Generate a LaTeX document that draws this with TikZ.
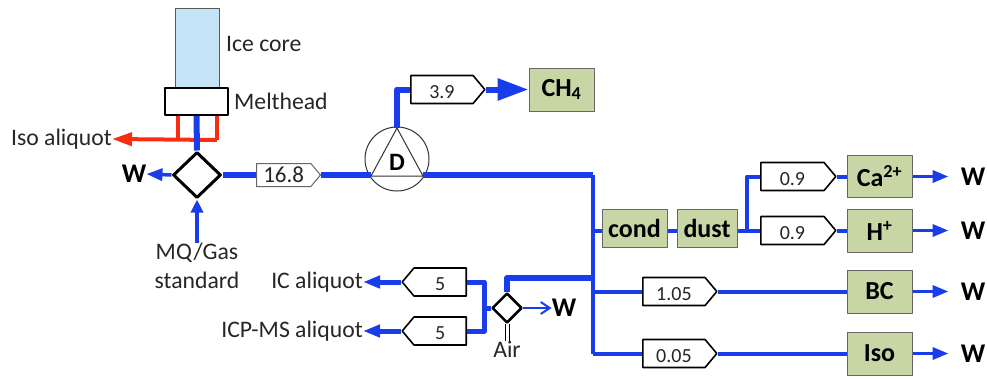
\documentclass[tikz,border=0pt]{standalone}
\usepackage{fontspec}
\setmainfont{Carlito}
\usetikzlibrary{arrows.meta,positioning,calc,shapes.geometric,shapes.symbols}
\definecolor{flow}{HTML}{1A3DEB}
\definecolor{melt}{HTML}{FA2D10}
\definecolor{sensor}{HTML}{C8D6A6}
\definecolor{ice}{HTML}{C5E3F7}
\tikzset{
  lbl/.style={inner sep=0pt,font=\fontsize{23.7}{28}\selectfont,text=black!85},
  wout/.style={inner sep=0pt,font=\fontsize{27}{28}\selectfont\bfseries},
  sensorbox/.style={draw=black!60,line width=1pt,fill=sensor,inner sep=0pt,
             font=\fontsize{26}{28}\selectfont\bfseries},
  tagR/.style={signal,signal to=east,signal from=nowhere,signal pointer angle=100,draw=black,
             line width=1.6pt,fill=white,inner sep=0pt,minimum height=28pt,anchor=west,
             text height=17pt,text depth=0pt,
             font=\fontsize{20}{22}\selectfont,text=black!85},
  tagL/.style={tagR,signal to=west,anchor=east},
  valve/.style={diamond,draw=black,line width=3pt,fill=white,inner sep=0pt,aspect=1},
  thickflow/.style={flow,line width=6pt},
  midflow/.style={flow,line width=4pt},
  wflow/.style={flow,line width=3.5pt,-{Triangle[length=16pt,width=12pt]}},
  every picture/.style={line join=round}}
\begin{document}
\begin{tikzpicture}[x=1pt,y=-1pt]
  \useasboundingbox (0,0) rectangle (987,378);
  % left part
  \node[draw=black!65,line width=1pt,fill=ice,minimum width=44pt,minimum height=80pt,inner sep=0pt] (core) at (197,48){};
  \node[draw=black,line width=2pt,fill=white,minimum width=63pt,minimum height=27pt,inner sep=0pt] (head) at (196.5,101.5){};
  \node[lbl,anchor=west] (coretxt) at (226,44){Ice core};
  \node[lbl,anchor=west] (headtxt) at (234,101){Melthead};
  \node[lbl,anchor=east] (isotxt) at (112,139){Iso aliquot};
  \node[valve,minimum width=48pt,minimum height=46pt] (v1) at (197,175){};
  \node[wout] (w0) at (134,174){W};
  \node[lbl,align=center,font=\fontsize{23.7}{29}\selectfont] (mq) at (197,266){MQ/Gas\\standard};
  \coordinate (redL) at (178,140);\coordinate (redR) at (217,140);
  \draw[melt,line width=4pt] (redL |- head.south)--(redL) (redR |- head.south)--(redR);
  \draw[melt,line width=4pt,-{Triangle[length=20pt,width=13pt]}] (redR)--(isotxt.east);
  \draw[thickflow] (head.south)--(v1.north);
  \draw[wflow] (v1.west)--(w0.east);
  \draw[flow,line width=4pt,-{Triangle[length=13pt,width=12pt]}] (mq.north)--(v1.south);
  % degasser
  \node[tagR,draw=black!60,line width=1pt,minimum width=64pt,minimum height=23pt,text height=15pt,font=\fontsize{23}{24}\selectfont] (t168) at (256,175){16.8};
  \node[draw=black!80,line width=1pt,circle,minimum size=64pt,inner sep=0pt] (pump) at (397,159){};
  \coordinate (apex) at (397,128);\coordinate (baseL) at (371,176);\coordinate (baseR) at (423,176);
  \coordinate (busT) at (593,175);\coordinate (busB) at (593,353.5);
  \node[tagR,minimum width=74pt] (t39) at (410,89.5){3.9\hspace{8pt}};
  \node[sensorbox,minimum width=65pt,minimum height=43pt] (ch4) at (561.5,89.5){CH\textsubscript{4}};
  \draw[thickflow] (v1.east)--(t168.west) (t168.east)--(t168.east -| baseL) (baseR |- t168.east)--(busT);
  \draw[midflow] (busT)--(busB);
  \draw[thickflow] (apex)|-(t39.west);
  \draw[thickflow,-{Triangle[length=31pt,width=21pt]}] (t39.east)--(ch4.west);
  \draw[draw=black!80,line width=1pt,fill=white] (apex)--(baseL)--(baseR)--cycle;
  \node[inner sep=0pt,font=\fontsize{25}{28}\selectfont\bfseries] (dlbl) at (397,162){D};
  % right part
  \node[sensorbox,minimum width=65pt,minimum height=38pt] (cond) at (634.5,228){cond};
  \node[sensorbox,minimum width=60pt,minimum height=38pt] (dust) at (707,228){dust};
  \coordinate (jn) at (747,230.5);
  \foreach \nm/\val/\lab/\ya/\hh in {ca/0.9/Ca\textsuperscript{2+}/176.5/42,h/0.9/H\textsuperscript{+}/230.5/43}{
    \node[tagR,minimum width=75pt] (t\nm) at (760,\ya){\val\hspace{6pt}};
    \node[sensorbox,minimum width=65pt,minimum height=\hh pt] (\nm) at (879.5,\ya){\lab};
    \draw[midflow] (jn)|-(t\nm.west);
    \draw[midflow] (t\nm.east)--(\nm.west);
  }
  \node[tagR,minimum width=74pt] (tbc) at (642,291.5){1.05};
  \node[tagR,minimum width=74pt] (tiso) at (642,353.5){0.05};
  \node[sensorbox,minimum width=65pt,minimum height=43pt] (bc) at (879.5,291.5){BC};
  \node[sensorbox,minimum width=65pt,minimum height=43pt] (iso) at (879.5,353.5){Iso};
  \draw[midflow] (busT |- jn)--(jn -| cond.west) (jn -| cond.east)--(jn -| dust.west) (jn -| dust.east)--(jn);
  \draw[midflow] (busT |- tbc.west)--(tbc.west) (tbc.east)--(bc.west);
  \draw[midflow] (busT |- tiso.west)--(tiso.west) (tiso.east)--(iso.west);
  \foreach \nm in {ca,h,bc,iso}{
    \node[wout] (w\nm) at (973,0 |- \nm.east){W};
    \draw[wflow] (\nm.east)--++(36,0);
  }
  % aliquots
  \node[tagL,minimum width=64pt] (t5a) at (467,282){5\hspace{12pt}};
  \node[tagL,minimum width=64pt] (t5b) at (467,331){5\hspace{12pt}};
  \node[lbl,anchor=east] (ictxt) at (363,282){IC aliquot};
  \node[lbl,anchor=east] (icptxt) at (363,331){ICP-MS aliquot};
  \node[valve,minimum width=30pt,minimum height=30pt,line width=2.5pt] (v2) at (507,308){};
  \node[lbl] (air) at (507,349){Air};
  \node[wout] (w2) at (564,308){W};
  \coordinate (jv) at (484,308);
  \draw[flow,line width=5pt] (t5a.east)-|(jv) (t5b.east)-|(jv) (jv)--(v2.west);
  \draw[thickflow] (v2.north)|-(busT |- 0,278);
  \draw[flow,line width=5pt,-{Triangle[length=17pt,width=12pt]}] (t5a.west)--(ictxt.east);
  \draw[flow,line width=5pt,-{Triangle[length=17pt,width=12pt]}] (t5b.west)--(icptxt.east);
  \draw[flow,line width=2pt,-{Straight Barb[length=9pt,width=12pt]}] (v2.east)--(w2.west);
  \draw[black,double,double distance=3pt,line width=1pt] (v2.south)--(air.north);
\end{tikzpicture}
\end{document}
